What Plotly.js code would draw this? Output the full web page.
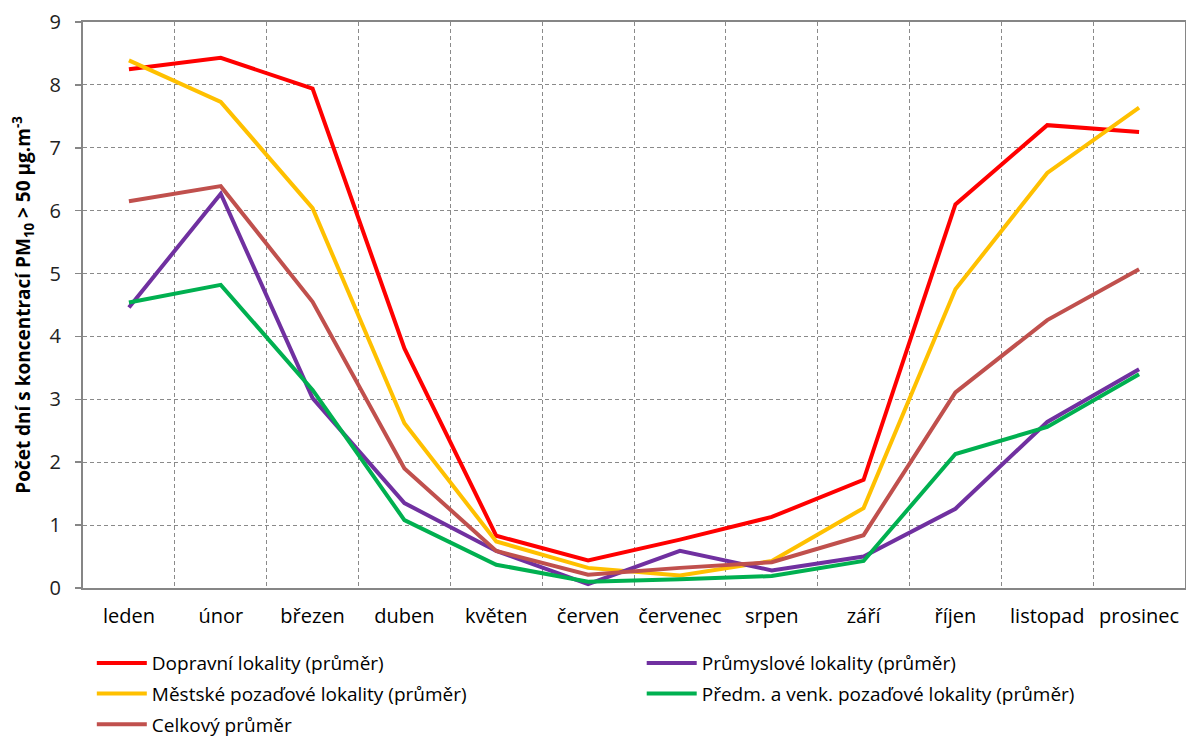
<!DOCTYPE html>
<html>
<head>
<meta charset="utf-8">
<script src="https://cdn.plot.ly/plotly-3.0.1.min.js"></script>
<style>html,body{margin:0;padding:0;background:#fff;}#chart{width:1186px;height:746px;}</style>
</head>
<body>
<div id="chart"></div>
<script>
const months = ["leden","únor","březen","duben","květen","červen","červenec","srpen","září","říjen","listopad","prosinec"];

const seriesNames = [
  "Dopravní lokality (průměr)",
  "Městské pozaďové lokality (průměr)",
  "Průmyslové lokality (průměr)",
  "Předm. a venk. pozaďové lokality (průměr)",
  "Celkový průměr"
];

const dopravni   = [8.25, 8.43, 7.94, 3.81, 0.83, 0.44, 0.77, 1.13, 1.72, 6.10, 7.36, 7.25];
const mestske    = [8.39, 7.73, 6.04, 2.62, 0.74, 0.32, 0.20, 0.43, 1.27, 4.75, 6.60, 7.64];
const prumyslove = [4.46, 6.27, 3.02, 1.35, 0.59, 0.06, 0.59, 0.28, 0.50, 1.26, 2.64, 3.48];
const predmestske= [4.54, 4.82, 3.15, 1.08, 0.37, 0.10, 0.14, 0.19, 0.43, 2.13, 2.56, 3.40];
const celkovy    = [6.15, 6.39, 4.55, 1.90, 0.59, 0.21, 0.32, 0.41, 0.84, 3.11, 4.26, 5.07];

const colors = ["#FF0000", "#FFC000", "#7030A0", "#00B050", "#C0504D"];
const legendIds = ["legend", "legend", "legend2", "legend2", "legend"];
const values = [dopravni, mestske, prumyslove, predmestske, celkovy];

const FONT = "'Open Sans', Lato, sans-serif";

const traces = values.map((v, i) => ({
  type: "scatter",
  mode: "lines",
  x: months,
  y: v,
  name: seriesNames[i],
  legend: legendIds[i],
  legendgroup: "g" + i,
  line: {color: colors[i], width: 4}
}));

const legendCommon = {
  orientation: "v",
  xanchor: "left",
  y: -0.099,
  yanchor: "top",
  font: {family: FONT, size: 19, color: "#000"},
  itemwidth: 50,
  tracegroupgap: 3,
  bgcolor: "rgba(0,0,0,0)"
};

const layout = {
  width: 1186,
  height: 746,
  margin: {l: 83, r: 1, t: 22, b: 158},
  paper_bgcolor: "#ffffff",
  plot_bgcolor: "#ffffff",
  font: {family: FONT, size: 18, color: "#000"},
  showlegend: true,
  legend: Object.assign({x: 0.008}, legendCommon),
  legend2: Object.assign({x: 0.507}, legendCommon),
  xaxis: {
    type: "category",
    range: [-0.5, 11.5],
    tickson: "boundaries",
    showgrid: true,
    gridcolor: "#8a8a8a",
    griddash: "4px,3px",
    gridwidth: 1,
    showline: true,
    mirror: true,
    linecolor: "#868686",
    linewidth: 2,
    ticks: "",
    ticklabelstandoff: 9,
    tickfont: {family: FONT, size: 20, color: "#000"},
    fixedrange: true
  },
  yaxis: {
    range: [0, 9],
    dtick: 1,
    showgrid: true,
    gridcolor: "#8a8a8a",
    griddash: "4px,3px",
    gridwidth: 1,
    zeroline: false,
    showline: true,
    mirror: true,
    linecolor: "#868686",
    linewidth: 2,
    ticks: "outside",
    ticklen: 6,
    tickcolor: "#868686",
    tickwidth: 1.5,
    ticklabelstandoff: 10,
    tickfont: {family: FONT, size: 20, color: "#222"},
    title: {
      text: "<b>Počet dní s koncentrací PM<sub>10</sub> > 50 µg.m<sup>-3</sup></b>",
      font: {family: FONT, size: 19, color: "#000"},
      standoff: 14
    },
    fixedrange: true
  }
};

Plotly.newPlot("chart", traces, layout, {displayModeBar: false, staticPlot: true});
</script>
</body>
</html>
